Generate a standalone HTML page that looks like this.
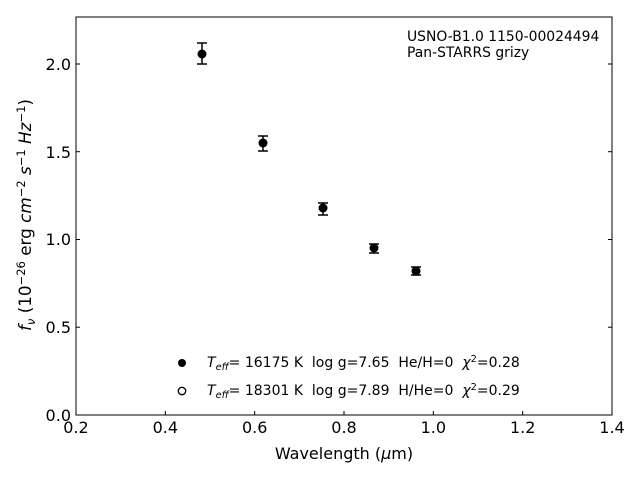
<!DOCTYPE html><html><head><style>body{margin:0;background:#fff}svg{display:block}text{font-family:"DejaVu Sans","Liberation Sans",sans-serif;fill:#000;white-space:pre}</style></head><body>
<svg width="640" height="480" viewBox="0 0 640 480" xml:space="preserve">
<rect x="76" y="17" width="536" height="398" fill="none" stroke="#000" stroke-width="1"/>
<g stroke="#000" stroke-width="1">
<line x1="76" y1="415" x2="76" y2="411"/><line x1="165.3" y1="415" x2="165.3" y2="411"/><line x1="254.7" y1="415" x2="254.7" y2="411"/><line x1="344" y1="415" x2="344" y2="411"/><line x1="433.3" y1="415" x2="433.3" y2="411"/><line x1="522.7" y1="415" x2="522.7" y2="411"/><line x1="612" y1="415" x2="612" y2="411"/>
<line x1="76" y1="415" x2="80" y2="415"/><line x1="76" y1="327.2" x2="80" y2="327.2"/><line x1="76" y1="239.5" x2="80" y2="239.5"/><line x1="76" y1="151.7" x2="80" y2="151.7"/><line x1="76" y1="64" x2="80" y2="64"/>
<line x1="612" y1="327.2" x2="608" y2="327.2"/><line x1="612" y1="239.5" x2="608" y2="239.5"/><line x1="612" y1="151.7" x2="608" y2="151.7"/><line x1="612" y1="64" x2="608" y2="64"/>
</g>
<g font-size="16" text-anchor="middle">
<text x="76" y="433">0.2</text><text x="165.3" y="433">0.4</text><text x="254.7" y="433">0.6</text><text x="344" y="433">0.8</text><text x="433.3" y="433">1.0</text><text x="522.7" y="433">1.2</text><text x="612" y="433">1.4</text>
</g>
<g font-size="16" text-anchor="end">
<text x="71" y="421">0.0</text><text x="71" y="333">0.5</text><text x="71" y="245">1.0</text><text x="71" y="158">1.5</text><text x="71" y="70">2.0</text>
</g>
<text x="344" y="459" font-size="16" text-anchor="middle">Wavelength (<tspan font-style="italic">μ</tspan>m)</text>
<text transform="translate(31,215) rotate(-90)" font-size="16.8" text-anchor="middle"><tspan font-style="italic">f</tspan><tspan font-style="italic" font-size="11.5" dy="4">ν</tspan><tspan dy="-4"> (10</tspan><tspan font-size="11.5" dy="-6">−26</tspan><tspan dy="6"> erg </tspan><tspan font-style="italic">cm</tspan><tspan font-size="11.5" dy="-6">−2</tspan><tspan dy="6"> </tspan><tspan font-style="italic">s</tspan><tspan font-size="11.5" dy="-6">−1</tspan><tspan dy="6"> </tspan><tspan font-style="italic">Hz</tspan><tspan font-size="11.5" dy="-6">−1</tspan><tspan dy="6">)</tspan></text>
<text x="407" y="41" font-size="13.9">USNO-B1.0 1150-00024494</text>
<text x="407" y="57" font-size="13.9">Pan-STARRS grizy</text>
<g stroke="#000" stroke-width="1.5">
<line x1="202" y1="43" x2="202" y2="64"/><line x1="197" y1="43" x2="207" y2="43"/><line x1="197" y1="64" x2="207" y2="64"/>
<line x1="263" y1="136" x2="263" y2="151"/><line x1="258" y1="136" x2="268" y2="136"/><line x1="258" y1="151" x2="268" y2="151"/>
<line x1="323" y1="203" x2="323" y2="215"/><line x1="318" y1="203" x2="328" y2="203"/><line x1="318" y1="215" x2="328" y2="215"/>
<line x1="374" y1="244" x2="374" y2="253"/><line x1="369" y1="244" x2="379" y2="244"/><line x1="369" y1="253" x2="379" y2="253"/>
<line x1="416" y1="267" x2="416" y2="275"/><line x1="411" y1="267" x2="421" y2="267"/><line x1="411" y1="275" x2="421" y2="275"/>
</g>
<g fill="#000"><circle cx="202" cy="54" r="4.5"/><circle cx="263" cy="143" r="4.5"/><circle cx="323" cy="208" r="4.5"/><circle cx="374" cy="248" r="4.5"/><circle cx="416" cy="271" r="4.5"/></g>
<circle cx="182" cy="363" r="4" fill="#000"/>
<circle cx="182" cy="391" r="3.7" fill="#fff" stroke="#000" stroke-width="1.3"/>
<text x="207" y="367" font-size="14"><tspan font-style="italic">T</tspan><tspan font-style="italic" font-size="9.8" dy="3">eff</tspan><tspan dy="-3">= 16175 K  log g=7.65  He/H=0  </tspan><tspan font-style="italic">χ</tspan><tspan font-size="9.8" dy="-5">2</tspan><tspan dy="5">=0.28</tspan></text>
<text x="207" y="395" font-size="14"><tspan font-style="italic">T</tspan><tspan font-style="italic" font-size="9.8" dy="3">eff</tspan><tspan dy="-3">= 18301 K  log g=7.89  H/He=0  </tspan><tspan font-style="italic">χ</tspan><tspan font-size="9.8" dy="-5">2</tspan><tspan dy="5">=0.29</tspan></text>
</svg></body></html>
